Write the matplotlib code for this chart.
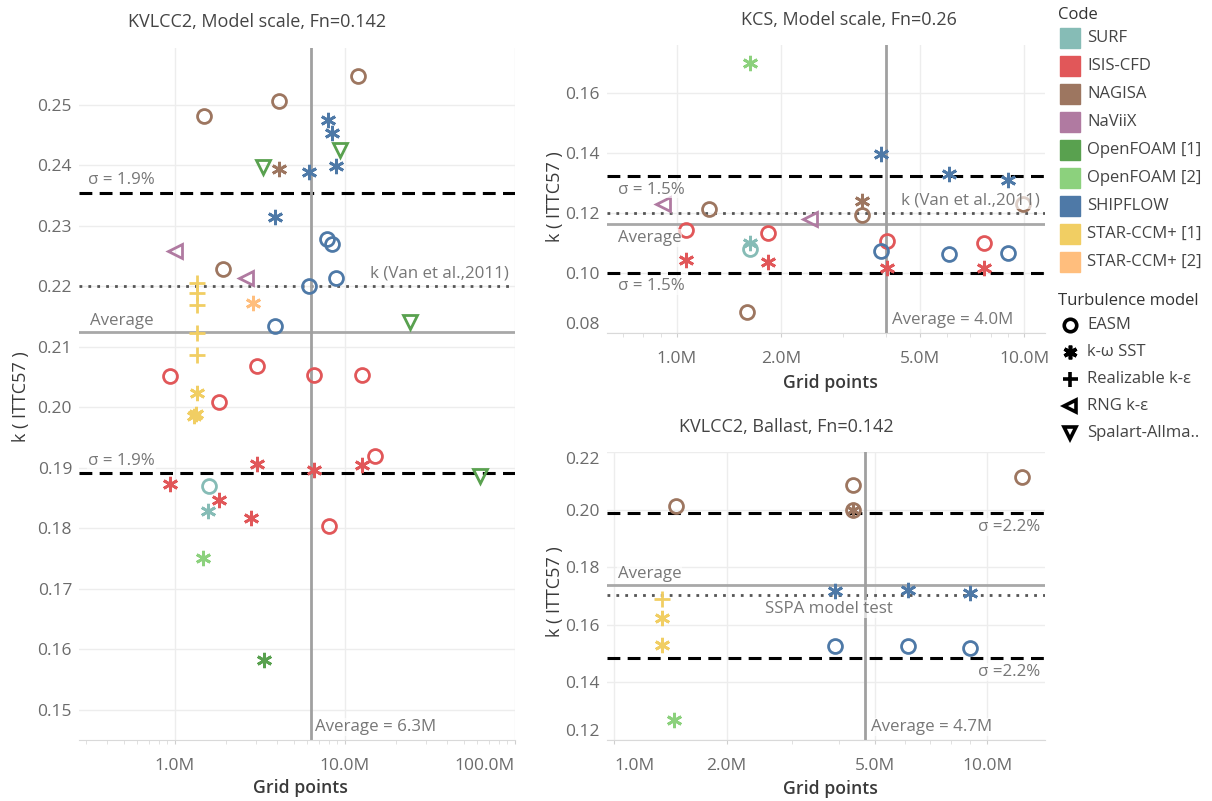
import matplotlib
matplotlib.use("Agg")
import matplotlib.pyplot as plt
from matplotlib.ticker import FixedLocator, LogLocator, NullFormatter

plt.rcParams['font.family'] = ['Open Sans', 'DejaVu Sans']

# codes and turbulence models
code_names = ["SURF", "ISIS-CFD", "NAGISA", "NaViiX", "OpenFOAM [1]", "OpenFOAM [2]",
              "SHIPFLOW", "STAR-CCM+ [1]", "STAR-CCM+ [2]"]
code_colors = ["#86bcb6", "#e15759", "#9d7660", "#b07aa1", "#59a14f", "#8cd17d",
               "#4e79a7", "#f1ce63", "#ffbe7d"]
model_keys = ["EASM", "SST", "RKE", "RNG", "SA"]
model_labels = ["EASM", "k-ω SST", "Realizable k-ε", "RNG k-ε", "Spalart-Allma.."]

# KVLCC2, model scale (grid points in millions)
kv_code = ["NAGISA", "NAGISA", "NAGISA", "NAGISA", "NAGISA",
           "SHIPFLOW", "SHIPFLOW", "SHIPFLOW", "SHIPFLOW", "SHIPFLOW",
           "SHIPFLOW", "SHIPFLOW", "SHIPFLOW", "SHIPFLOW", "SHIPFLOW",
           "OpenFOAM [1]", "OpenFOAM [1]", "OpenFOAM [1]", "OpenFOAM [1]", "OpenFOAM [1]",
           "NaViiX", "NaViiX",
           "STAR-CCM+ [1]", "STAR-CCM+ [1]", "STAR-CCM+ [1]", "STAR-CCM+ [1]", "STAR-CCM+ [1]",
           "STAR-CCM+ [1]", "STAR-CCM+ [1]", "STAR-CCM+ [1]",
           "STAR-CCM+ [2]",
           "ISIS-CFD", "ISIS-CFD", "ISIS-CFD", "ISIS-CFD", "ISIS-CFD", "ISIS-CFD", "ISIS-CFD",
           "ISIS-CFD", "ISIS-CFD", "ISIS-CFD", "ISIS-CFD", "ISIS-CFD", "ISIS-CFD",
           "SURF", "SURF", "OpenFOAM [2]"]
kv_model = ["EASM", "EASM", "EASM", "EASM", "SST",
            "SST", "SST", "SST", "SST", "SST",
            "EASM", "EASM", "EASM", "EASM", "EASM",
            "SA", "SA", "SA", "SA", "SST",
            "RNG", "RNG",
            "RKE", "RKE", "RKE", "RKE", "RKE",
            "SST", "SST", "SST",
            "SST",
            "EASM", "EASM", "EASM", "EASM", "EASM", "EASM", "EASM",
            "SST", "SST", "SST", "SST", "SST", "SST",
            "EASM", "SST", "SST"]
kv_grid = [12.0, 4.09, 1.48, 1.92, 4.09,
           7.9, 8.4, 6.1, 8.8, 3.87,
           7.8, 8.4, 8.8, 6.1, 3.87,
           9.3, 3.3, 24.0, 62.0, 3.33,
           1.0, 2.6,
           1.34, 1.34, 1.34, 1.34, 1.34,
           1.34, 1.32, 1.30,
           2.86,
           0.94, 3.03, 6.55, 12.6, 1.82, 15.0, 8.1,
           3.05, 6.55, 12.6, 0.94, 1.82, 2.81,
           1.58, 1.56, 1.46]
kv_k = [0.2548, 0.2507, 0.2482, 0.2229, 0.2395,
        0.2476, 0.2454, 0.2389, 0.2399, 0.2315,
        0.2279, 0.2271, 0.2214, 0.2200, 0.2134,
        0.2426, 0.2397, 0.2142, 0.1886, 0.1583,
        0.2258, 0.2214,
        0.2205, 0.2190, 0.2169, 0.2123, 0.2087,
        0.2024, 0.1990, 0.1986,
        0.2173,
        0.2052, 0.2069, 0.2054, 0.2054, 0.2009, 0.1919, 0.1804,
        0.1907, 0.1896, 0.1905, 0.1873, 0.1847, 0.1817,
        0.1871, 0.1829, 0.1751]
kv_ref = dict(avg=0.2124, hi=0.2355, lo=0.1891, exp=0.2200, grid=6.3)

# KCS, model scale
kcs_code = ["OpenFOAM [2]", "SHIPFLOW", "SHIPFLOW", "SHIPFLOW", "SHIPFLOW", "SHIPFLOW", "SHIPFLOW",
            "NaViiX", "NaViiX", "NAGISA", "NAGISA", "NAGISA", "NAGISA", "NAGISA",
            "ISIS-CFD", "ISIS-CFD", "ISIS-CFD", "ISIS-CFD",
            "ISIS-CFD", "ISIS-CFD", "ISIS-CFD", "ISIS-CFD", "SURF", "SURF"]
kcs_model = ["SST", "SST", "SST", "SST", "EASM", "EASM", "EASM",
             "RNG", "RNG", "EASM", "EASM", "EASM", "EASM", "SST",
             "EASM", "EASM", "EASM", "EASM",
             "SST", "SST", "SST", "SST", "SST", "EASM"]
kcs_grid = [1.63, 3.87, 6.08, 8.96, 3.87, 6.08, 8.96,
            0.91, 2.42, 1.24, 3.42, 1.59, 9.9, 3.42,
            1.06, 1.83, 4.03, 7.66,
            1.06, 1.83, 4.03, 7.66, 1.63, 1.63]
kcs_k = [0.1698, 0.1397, 0.1328, 0.1309, 0.1072, 0.1061, 0.1065,
         0.1230, 0.1178, 0.1211, 0.1192, 0.0870, 0.1230, 0.1239,
         0.1141, 0.1133, 0.1106, 0.1098,
         0.1041, 0.1036, 0.1017, 0.1017, 0.1100, 0.1078]
kcs_ref = dict(avg=0.1163, hi=0.1323, lo=0.0998, exp=0.1200, grid=4.0)

# KVLCC2, ballast
bal_code = ["NAGISA", "NAGISA", "NAGISA", "NAGISA", "NAGISA",
            "SHIPFLOW", "SHIPFLOW", "SHIPFLOW", "SHIPFLOW", "SHIPFLOW", "SHIPFLOW",
            "STAR-CCM+ [1]", "STAR-CCM+ [1]", "STAR-CCM+ [1]", "OpenFOAM [2]"]
bal_model = ["EASM", "EASM", "EASM", "EASM", "SST",
             "SST", "SST", "SST", "EASM", "EASM", "EASM",
             "RKE", "SST", "SST", "SST"]
bal_grid = [12.4, 4.37, 1.46, 4.37, 4.37,
            3.91, 6.14, 8.98, 3.91, 6.14, 8.98,
            1.34, 1.34, 1.34, 1.44]
bal_k = [0.2113, 0.2086, 0.2011, 0.2000, 0.2000,
         0.1716, 0.1722, 0.1710, 0.1525, 0.1525, 0.1520,
         0.1690, 0.1624, 0.1529, 0.1267]
bal_ref = dict(avg=0.1736, hi=0.1989, lo=0.1483, exp=0.1702, grid=4.7)

W, H = 1212, 801
marker_style = {
    "EASM": dict(marker="o", markersize=10),
    "SST": dict(marker=(6, 2, 0), markersize=11),
    "RKE": dict(marker="+", markersize=12),
    "RNG": dict(marker="<", markersize=9.5),
    "SA": dict(marker="v", markersize=9.5),
}
TXT = "#777777"
TICK = "#6b6b6b"
FS = 12.5      # tick labels
FA = 12.2      # reference line labels


def px_axes(x0, y0, x1, y1):
    # pixel box (top-left origin) -> figure axes
    return fig.add_axes([x0 / W, (H - y1) / H, (x1 - x0) / W, (y1 - y0) / H])


def draw_points(ax, codes, models, grid, k):
    for cname, col in zip(code_names, code_colors):
        for mkey in model_keys:
            sel = [i for i in range(len(codes)) if codes[i] == cname and models[i] == mkey]
            if not sel:
                continue
            ax.plot([grid[i] for i in sel], [k[i] for i in sel], linestyle="none",
                    markerfacecolor="none", markeredgecolor=col, color=col,
                    markeredgewidth=2, zorder=3, **marker_style[mkey])


def ref_lines(ax, ref):
    ax.axhline(ref["hi"], color="black", lw=2.2, ls=(0, (4.2, 2.4)), zorder=2)
    ax.axhline(ref["lo"], color="black", lw=2.2, ls=(0, (4.2, 2.4)), zorder=2)
    ax.axhline(ref["avg"], color="#a8a8a8", lw=2, zorder=2)
    ax.axhline(ref["exp"], color="#555555", lw=2, ls=(0, (1, 2.2)), zorder=2)
    ax.axvline(ref["grid"], color="#a0a0a0", lw=2, zorder=2)


def label(ax, x, y, s, dx, dy, ha="left", kind="h"):
    tr = ax.get_yaxis_transform() if kind == "h" else ax.get_xaxis_transform()
    ax.annotate(s, xy=(x, y), xycoords=tr, xytext=(dx * 0.72, dy * 0.72),
                textcoords="offset points", ha=ha, va="center", fontsize=FA, color=TXT,
                zorder=4, bbox=dict(boxstyle="square,pad=0.05", fc="white", ec="none", alpha=0.65))


def style_axes(ax, xlim, ylim, xticks, xlabels, yticks):
    ax.set_xscale("log")
    ax.set_xlim(*xlim)
    ax.set_ylim(*ylim)
    ax.xaxis.set_major_locator(FixedLocator(xticks))
    ax.set_xticklabels(xlabels)
    ax.xaxis.set_minor_locator(LogLocator(base=10, subs=range(2, 10)))
    ax.xaxis.set_minor_formatter(NullFormatter())
    ax.set_yticks(yticks)
    ax.set_yticklabels([f"{v:.2f}" for v in yticks])
    for s in ["top", "right", "left"]:
        ax.spines[s].set_visible(False)
    ax.spines["bottom"].set_color("#d9d9d9")
    ax.grid(True, which="major", color="#ededed", lw=1)
    ax.set_axisbelow(True)
    ax.tick_params(axis="y", length=0, pad=5, labelsize=FS, labelcolor=TICK)
    ax.tick_params(axis="x", which="major", length=3, color="#cfcfcf", pad=10,
                   labelsize=FS, labelcolor=TICK)
    ax.tick_params(axis="x", which="minor", length=3, color="#dcdcdc")


fig = plt.figure(figsize=(W / 100, H / 100), dpi=100)

# left panel
ax1 = px_axes(79, 48, 515, 740)
style_axes(ax1, (0.2724, 100), (0.14504, 0.25942), [1, 10, 100], ["1.0M", "10.0M", "100.0M"],
           [0.15 + 0.01 * i for i in range(11)])
ref_lines(ax1, kv_ref)
draw_points(ax1, kv_code, kv_model, kv_grid, kv_k)
label(ax1, 0.0, kv_ref["hi"], "σ = 1.9%", 9, 12.7)
label(ax1, 0.0, kv_ref["lo"], "σ = 1.9%", 9, 12.3)
label(ax1, 0.985, kv_ref["exp"], "k (Van et al.,2011)", 0, 12.7, ha="right")
label(ax1, 0.0, kv_ref["avg"], "Average", 11, 11.7)
label(ax1, kv_ref["grid"], 0.0, "Average = 6.3M", 4, 13, kind="v")
ax1.get_xticklabels()[-1].set_ha("right")

# top-right panel
ax2 = px_axes(607, 45, 1045, 333.3)
style_axes(ax2, (0.630, 11.47), (0.0798, 0.1759), [1, 2, 5, 10], ["1.0M", "2.0M", "5.0M", "10.0M"],
           [0.08, 0.10, 0.12, 0.14, 0.16])
ref_lines(ax2, kcs_ref)
draw_points(ax2, kcs_code, kcs_model, kcs_grid, kcs_k)
label(ax2, 0.0, kcs_ref["hi"], "σ = 1.5%", 11, -13.8)
label(ax2, 0.0, kcs_ref["lo"], "σ = 1.5%", 11, -13)
label(ax2, 0.989, kcs_ref["exp"], "k (Van et al.,2011)", 0, 12.3, ha="right")
label(ax2, 0.0, kcs_ref["avg"], "Average", 11, -14)
label(ax2, kcs_ref["grid"], 0.0, "Average = 4.0M", 6, 13, kind="v")
ax2.get_yticklabels()[0].set_va("bottom")

# bottom-right panel
ax3 = px_axes(607, 451.7, 1045, 740)
style_axes(ax3, (0.955, 14.27), (0.1199, 0.2201), [1, 2, 5, 10], ["1.0M", "2.0M", "5.0M", "10.0M"],
           [0.12, 0.14, 0.16, 0.18, 0.20, 0.22])
ref_lines(ax3, bal_ref)
draw_points(ax3, bal_code, bal_model, bal_grid, bal_k)
label(ax3, 0.989, bal_ref["hi"], "σ =2.2%", 0, -14, ha="right")
label(ax3, 0.989, bal_ref["lo"], "σ =2.2%", 0, -14, ha="right")
label(ax3, 0.0, bal_ref["avg"], "Average", 11, 11.7)
label(ax3, 0.507, bal_ref["exp"], "SSPA model test", 0, -14, ha="center")
label(ax3, bal_ref["grid"], 0.0, "Average = 4.7M", 6, 13, kind="v")
ax3.get_yticklabels()[0].set_va("bottom")
ax3.get_yticklabels()[-1].set_va("top")
ax3.get_xticklabels()[0].set_ha("left")

# titles and axis names
TITLE = "#444444"
fig.text(257 / W, 1 - 22 / H, "KVLCC2, Model scale, Fn=0.142", ha="center", va="center", fontsize=13, color=TITLE)
fig.text(849 / W, 1 - 20 / H, "KCS, Model scale, Fn=0.26", ha="center", va="center", fontsize=13, color=TITLE)
fig.text(786 / W, 1 - 427 / H, "KVLCC2, Ballast, Fn=0.142", ha="center", va="center", fontsize=13, color=TITLE)
for x, y in [(300, 788), (830, 383), (830, 789)]:
    fig.text(x / W, 1 - y / H, "Grid points", ha="center", va="center", fontsize=12.7,
             color="#3a3a3a", fontweight="semibold")
for x, y in [(21, 397), (555, 197), (555, 592)]:
    fig.text(x / W, 1 - y / H, "k ( ITTC57 )", ha="center", va="center", fontsize=13,
             color="#3a3a3a", rotation=90)

# legend
leg = px_axes(1050, 0, 1212, 445)
leg.set_xlim(1050, 1212)
leg.set_ylim(445, 0)
leg.axis("off")
leg.text(1058, 15, "Code", fontsize=12, color="#333333", va="center")
for i, (name, col) in enumerate(zip(code_names, code_colors)):
    y = 38 + i * 28
    leg.plot([1070], [y], marker="s", markersize=14.5, color=col, linestyle="none")
    leg.text(1087, y, name, fontsize=12, color="#444444", va="center")
leg.text(1058, 301, "Turbulence model", fontsize=12, color="#333333", va="center")
for i, (mkey, lab) in enumerate(zip(model_keys, model_labels)):
    y = 325 + i * 27
    st = dict(marker_style[mkey])
    st["markersize"] = st["markersize"] * 0.9
    leg.plot([1070], [y], linestyle="none", markerfacecolor="none", markeredgecolor="black",
             color="black", markeredgewidth=2.6, **st)
    leg.text(1087, y, lab, fontsize=12, color="#444444", va="center")

fig.savefig("out.png", dpi=100)
